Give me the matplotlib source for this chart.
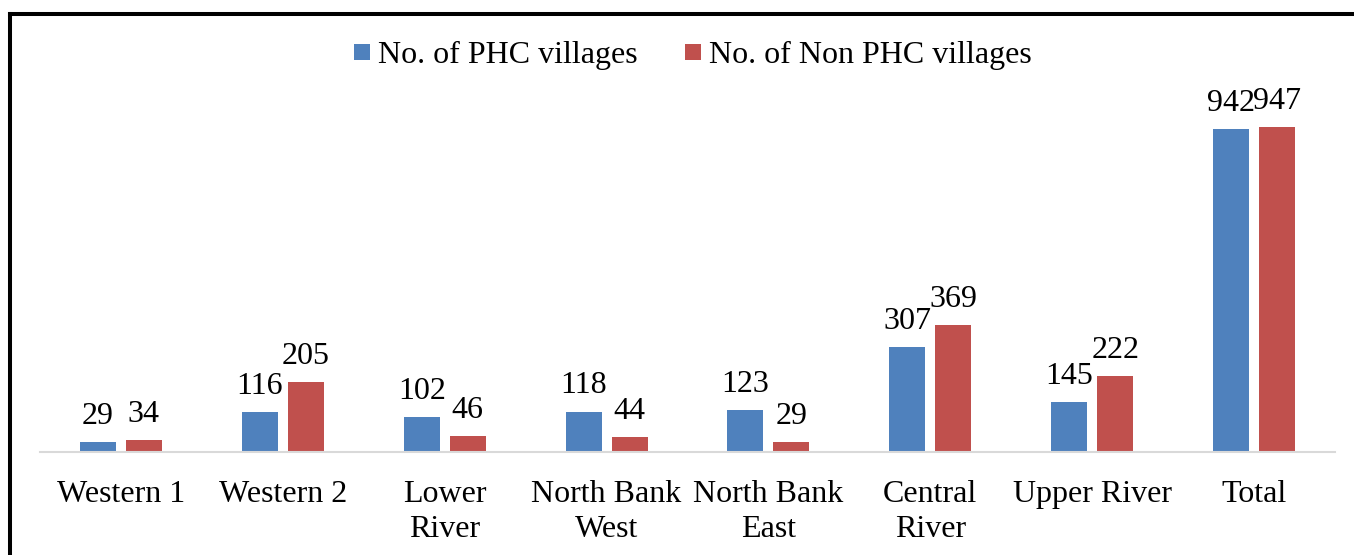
import matplotlib
matplotlib.use("Agg")
import matplotlib.pyplot as plt
import numpy as np
from matplotlib.lines import Line2D

categories = ["Western 1", "Western 2", "Lower\nRiver", "North Bank\nWest", "North Bank\nEast",
              "Central\nRiver", "Upper River", "Total"]
phc = [29, 116, 102, 118, 123, 307, 145, 942]
non_phc = [34, 205, 46, 44, 29, 369, 222, 947]
series_names = ["No. of PHC villages", "No. of Non PHC villages"]
colors = ["#4F81BD", "#C0504D"]

W, H = 1354, 555
fig = plt.figure(figsize=(W / 100, H / 100), dpi=100)
plt.rcParams['font.family'] = ['Liberation Serif', 'DejaVu Serif']
fs = 23

ax = fig.add_axes([40 / W, 1 - 452 / H, (1335 - 40) / W, (452 - 109) / H])
x = np.arange(len(categories))
bw = 0.222
gap = 0.062
off = (bw + gap) / 2
b1 = ax.bar(x - off, phc, bw, color=colors[0])
b2 = ax.bar(x + off, non_phc, bw, color=colors[1])
ax.set_xlim(-0.5, len(categories) - 0.5)
ax.set_ylim(0, 1000)

for bars, vals in ((b1, phc), (b2, non_phc)):
    for r, v in zip(bars, vals):
        ax.annotate(str(v), (r.get_x() + r.get_width() / 2, v), xytext=(0, 13),
                    textcoords="offset points", ha="center", va="baseline", fontsize=fs)

ax.set_xticks(x)
ax.set_xticklabels(categories, fontsize=fs, linespacing=1.3)
ax.tick_params(axis="x", length=0, pad=20)
ax.set_yticks([])
for s in ["top", "right", "left"]:
    ax.spines[s].set_visible(False)
ax.spines["bottom"].set_color("#D9D9D9")
ax.spines["bottom"].set_linewidth(1.5)

handles = [Line2D([], [], linestyle="none", marker="s", markersize=11.5,
                  markerfacecolor=c, markeredgewidth=0) for c in colors]
fig.legend(handles, series_names, loc="center", bbox_to_anchor=(693 / W, 1 - 55 / H),
           ncol=2, frameon=False, fontsize=fs, handlelength=0.5, handleheight=0.6,
           handletextpad=0.25, columnspacing=1.5)

# outer border (partially visible frame)
fig.add_artist(Line2D([10 / W, 10 / W], [0, 1 - 14 / H], transform=fig.transFigure,
                      color="black", linewidth=2.9, solid_capstyle="projecting"))
fig.add_artist(Line2D([10 / W, 1], [1 - 14 / H, 1 - 14 / H], transform=fig.transFigure,
                      color="black", linewidth=2.9, solid_capstyle="projecting"))

fig.savefig("out.png", dpi=100)
